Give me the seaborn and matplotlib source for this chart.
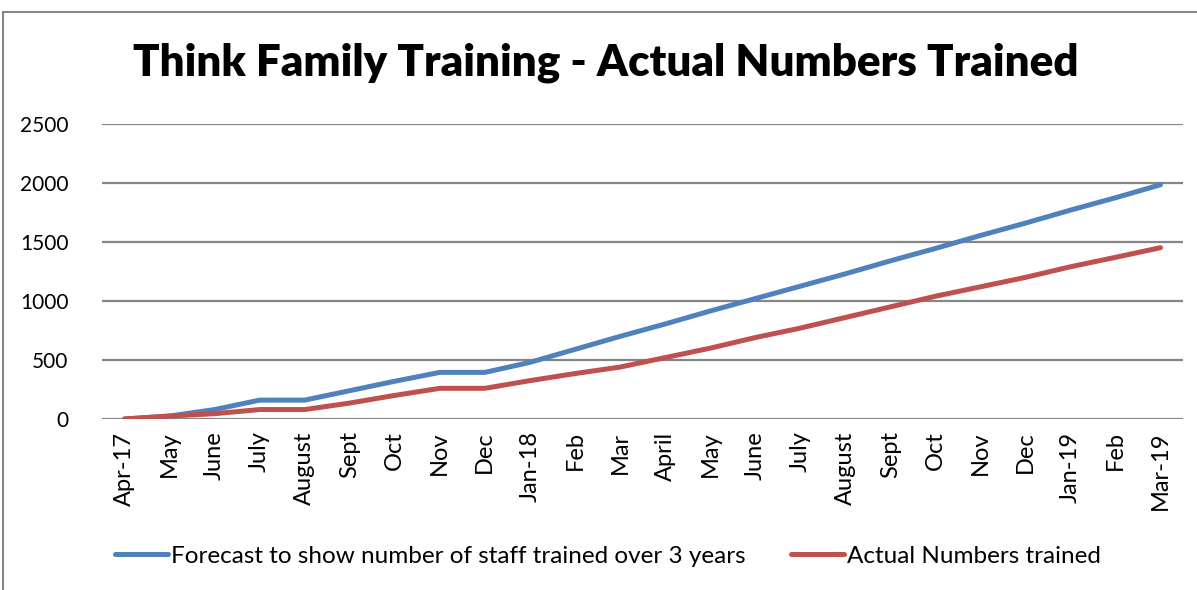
import numpy as np
import pandas as pd
import matplotlib
matplotlib.use("Agg")
import matplotlib.pyplot as plt
from matplotlib.lines import Line2D
import seaborn as sns

# ── Data ────────────────────────────────────────────────────────────────
months = ["Apr-17", "May", "June", "July", "August", "Sept", "Oct", "Nov",
          "Dec", "Jan-18", "Feb", "Mar", "April", "May", "June", "July",
          "August", "Sept", "Oct", "Nov", "Dec", "Jan-19", "Feb", "Mar-19"]
forecast = [0, 25, 80, 160, 160, 240, 320, 395, 395, 480, 590, 700,
            805, 915, 1020, 1125, 1230, 1340, 1445, 1555, 1660, 1770, 1875, 1985]
actual = [0, 25, 45, 80, 80, 135, 200, 260, 260, 325, 385, 440,
          520, 600, 690, 770, 860, 950, 1040, 1120, 1200, 1290, 1370, 1452]
series_names = ["Forecast to show number of staff trained over 3 years",
                "Actual Numbers trained"]
yticks = [0, 500, 1000, 1500, 2000, 2500]

BLUE = "#4F81BD"
RED = "#C0504D"
GRID = "#868686"

df = pd.DataFrame({
    "idx": list(range(len(months))) * 2,
    "value": forecast + actual,
    "series": [series_names[0]] * len(months) + [series_names[1]] * len(months),
})

sns.set_style("white")
plt.rcParams["font.family"] = ["Lato", "DejaVu Sans"]
plt.rcParams["text.color"] = "black"
plt.rcParams["xtick.color"] = "black"
plt.rcParams["ytick.color"] = "black"

W, H = 1197, 590
fig = plt.figure(figsize=(W / 100, H / 100), dpi=100)
ax = fig.add_axes([102 / W, 1 - 419 / H, (1183 - 102) / W, (419 - 124) / H])

sns.lineplot(data=df, x="idx", y="value", hue="series",
             palette=[BLUE, RED], linewidth=3.6, sort=False,
             legend=False, ax=ax, solid_capstyle="round", zorder=3)

ax.set_xlim(-0.5, len(months) - 0.5)
ax.set_ylim(0, 2500)
ax.set_yticks(yticks)
ax.set_yticklabels([str(v) for v in yticks], fontsize=15)
ax.set_xticks(range(len(months)))
ax.set_xticklabels(months, rotation=90, fontsize=17)
ax.tick_params(axis="both", length=0)
ax.tick_params(axis="y", pad=24)
ax.tick_params(axis="x", pad=9)
ax.set_xlabel("")
ax.set_ylabel("")
ax.yaxis.grid(True, color=GRID, linewidth=1.6)
ax.set_axisbelow(True)
for s in ax.spines.values():
    s.set_visible(False)

fig.text(606 / W, 1 - 63 / H, "Think Family Training - Actual Numbers Trained",
         fontsize=31.6, fontweight="heavy", ha="center", va="center", color="black")

handles = [Line2D([0], [0], color=BLUE, linewidth=3.6, solid_capstyle="round"),
           Line2D([0], [0], color=RED, linewidth=3.6, solid_capstyle="round")]
fig.legend(handles, series_names, loc="center", ncol=2,
           bbox_to_anchor=(608 / W, 1 - 556 / H), frameon=False,
           fontsize=17.5, handlelength=2.2, handletextpad=0.12,
           columnspacing=1.85)

# chart border (left and top edges visible)
fig.add_artist(Line2D([3 / W, 3 / W], [0, 1 - 12 / H], color=GRID, linewidth=1.5,
                      transform=fig.transFigure))
fig.add_artist(Line2D([3 / W, 1], [1 - 12 / H, 1 - 12 / H], color=GRID, linewidth=1.5,
                      transform=fig.transFigure))

fig.savefig("out.png", dpi=100)
